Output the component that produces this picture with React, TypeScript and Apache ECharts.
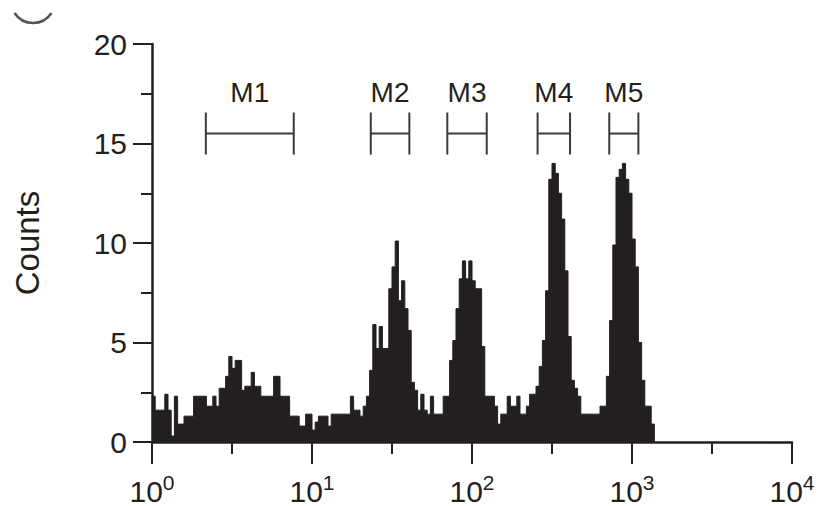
import React, { useEffect, useRef } from "react";
import * as echarts from "echarts";

// Histogram: counts per bin; bins are BIN_WIDTH decades wide, starting at 10^0
const BIN_WIDTH = 0.02;
const HIST_COUNTS = [
  2.3, 1.6, 1.6, 1.6, 2.4, 1.6, 0.3, 2.3, 0.9, 0.9,
  1.3, 1.3, 1.3, 2.3, 2.3, 2.3, 2.3, 1.8, 1.8, 2.3,
  1.8, 2.7, 2.7, 3.3, 4.3, 3.7, 4.1, 4.1, 2.6, 2.8,
  2.8, 3.5, 2.8, 2.8, 2.3, 2.3, 2.3, 2.3, 3.3, 3.3,
  2.3, 2.3, 2.3, 1.3, 1.3, 1.3, 0.8, 0.8, 1.4, 1.4,
  0.6, 1.0, 1.3, 1.3, 1.3, 0.8, 1.4, 1.4, 1.4, 1.4,
  1.4, 1.4, 2.3, 1.6, 1.6, 1.3, 1.8, 2.3, 3.6, 5.9,
  4.7, 5.8, 4.7, 4.7, 7.7, 8.8, 10.1, 7.1, 8.1, 6.7,
  5.6, 3.0, 2.6, 1.6, 2.4, 1.6, 1.4, 2.3, 1.4, 1.4,
  1.4, 2.3, 2.3, 4.1, 5.1, 6.7, 8.2, 9.1, 8.2, 9.1,
  8.1, 7.7, 7.7, 4.8, 2.3, 2.3, 2.3, 1.8, 0.9, 1.4,
  1.4, 2.3, 1.8, 1.8, 2.3, 1.4, 1.4, 1.8, 2.4, 2.4,
  2.8, 3.8, 5.1, 7.6, 13.2, 14.0, 13.5, 12.5, 11.2, 8.6,
  5.3, 3.1, 2.7, 2.3, 1.4, 1.4, 1.4, 1.4, 1.4, 1.4,
  1.8, 1.8, 3.3, 6.1, 9.9, 13.3, 13.7, 14.0, 13.2, 12.5,
  10.2, 8.8, 5.0, 3.1, 1.8, 1.8, 0.9,
];

// Marker gates (linear channel values)
const GATE_NAMES = ["M1", "M2", "M3", "M4", "M5"];
const GATE_LOW = [2.17, 23.3, 70.1, 257, 721];
const GATE_HIGH = [7.69, 40.6, 123.6, 410, 1096];
const GATE_LEVEL = 15.5;

// Axes
const X_DECADES_MIN = 0;
const X_DECADES_MAX = 4;
const Y_MIN = 0;
const Y_MAX = 20;
const Y_INTERVAL = 5;
const Y_NAME = "Counts";

const FONT = '"Liberation Sans", Arial, Helvetica, sans-serif';
const INK = "#231f20";

export default function App() {
  const ref = useRef<HTMLDivElement>(null);

  useEffect(() => {
    if (!ref.current) return;
    const chart = echarts.init(ref.current, undefined, { renderer: "svg" });

    const histData: number[][] = HIST_COUNTS.map((c, i) => [i * BIN_WIDTH, c]);
    histData.push([HIST_COUNTS.length * BIN_WIDTH, 0]);

    const gateData = GATE_NAMES.map((_, i) => [
      Math.log10(GATE_LOW[i]),
      Math.log10(GATE_HIGH[i]),
      GATE_LEVEL,
    ]);

    const option: any = {
      animation: false,
      backgroundColor: "#ffffff",
      grid: {
        left: 152,
        right: 26,
        top: 44,
        bottom: 64,
        containLabel: false,
        outerBoundsMode: "none",
      },
      xAxis: {
        type: "value",
        min: X_DECADES_MIN,
        max: X_DECADES_MAX,
        interval: 1,
        axisLine: { show: true, onZero: false, lineStyle: { color: INK, width: 2.5 } },
        axisTick: { show: true, inside: false, length: 22, lineStyle: { color: INK, width: 2 } },
        minorTick: { show: true, splitNumber: 2, length: 12, lineStyle: { color: INK, width: 2 } },
        splitLine: { show: false },
        minorSplitLine: { show: false },
        axisLabel: {
          margin: 30,
          formatter: (v: number) => `{b|10}{s|${Math.round(v)}}`,
          rich: {
            b: { fontSize: 30, fontFamily: FONT, color: INK, lineHeight: 34, verticalAlign: "bottom" },
            s: { fontSize: 21, fontFamily: FONT, color: INK, lineHeight: 34, verticalAlign: "top" },
          },
        },
      },
      yAxis: {
        type: "value",
        min: Y_MIN,
        max: Y_MAX,
        interval: Y_INTERVAL,
        name: Y_NAME,
        nameLocation: "middle",
        nameGap: 108,
        nameTextStyle: { fontSize: 33, fontFamily: FONT, color: INK },
        axisLine: { show: true, lineStyle: { color: INK, width: 2.5 } },
        axisTick: { show: true, inside: false, length: 19, lineStyle: { color: INK, width: 2 } },
        minorTick: { show: true, splitNumber: 2, length: 11, lineStyle: { color: INK, width: 2 } },
        splitLine: { show: false },
        minorSplitLine: { show: false },
        axisLabel: { margin: 25, fontSize: 30, fontFamily: FONT, color: INK },
      },
      series: [
        {
          type: "line",
          data: histData,
          step: "end",
          symbol: "none",
          lineStyle: { color: INK, width: 1 },
          areaStyle: { color: INK, opacity: 1 },
          z: 2,
        },
        {
          type: "custom",
          data: gateData,
          encode: { x: [0, 1], y: 2 },
          clip: false,
          z: 5,
          renderItem: (params: any, api: any) => {
            const lo = api.coord([api.value(0), api.value(2)]);
            const hi = api.coord([api.value(1), api.value(2)]);
            const h = 21;
            const st = { stroke: "#3a3a3a", lineWidth: 2 };
            return {
              type: "group",
              children: [
                { type: "line", shape: { x1: lo[0], y1: lo[1], x2: hi[0], y2: hi[1] }, style: st },
                { type: "line", shape: { x1: lo[0], y1: lo[1] - h, x2: lo[0], y2: lo[1] + h }, style: st },
                { type: "line", shape: { x1: hi[0], y1: hi[1] - h, x2: hi[0], y2: hi[1] + h }, style: st },
                {
                  type: "text",
                  x: (lo[0] + hi[0]) / 2,
                  y: lo[1] - 41,
                  style: {
                    text: GATE_NAMES[params.dataIndex],
                    fill: INK,
                    font: `28px ${FONT}`,
                    align: "center",
                    verticalAlign: "middle",
                  },
                },
              ],
            };
          },
        },
      ],
      graphic: [
        {
          type: "arc",
          shape: { cx: 33, cy: 1, r: 22, startAngle: 0.576, endAngle: 2.566, clockwise: true },
          style: { stroke: "#555555", lineWidth: 2.5, fill: "none" },
        },
      ],
    };

    chart.setOption(option);
    return () => chart.dispose();
  }, []);

  return (
    <div
      ref={ref}
      style={{ position: "absolute", left: 0, top: 0, width: 818, height: 506 }}
    />
  );
}
